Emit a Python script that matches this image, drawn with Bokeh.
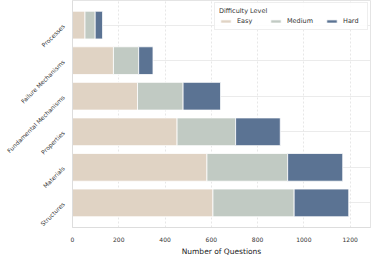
from bokeh.plotting import figure
from bokeh.models import ColumnDataSource, FactorRange, Range1d, FixedTicker, Legend
from bokeh.embed import file_html
from bokeh.resources import INLINE
import math

categories = ["Processes", "Failure Mechanisms", "Fundamental Mechanisms", "Properties", "Materials", "Structures"]
easy = [54, 177, 281, 452, 581, 607]
medium = [44, 109, 197, 253, 349, 351]
hard = [32, 62, 162, 193, 238, 236]
levels = ["Easy", "Medium", "Hard"]
colors = ["#e0d3c4", "#c1cac3", "#5b7393"]
x_ticks = [0, 200, 400, 600, 800, 1000, 1200]

src = ColumnDataSource(dict(cat=categories, Easy=easy, Medium=medium, Hard=hard))

yfactors = list(reversed(categories))
p = figure(frame_width=298, frame_height=227, output_backend="svg", toolbar_location=None,
           y_range=FactorRange(factors=yfactors, range_padding=0.064),
           x_range=Range1d(0, 1288),
           min_border_left=60, min_border_right=1, min_border_top=0, min_border_bottom=0)

rs = p.hbar_stack(levels, y="cat", height=0.78, source=src, color=colors,
                  line_color="white", line_width=0.8)

legend = Legend(items=[(lv, [r]) for lv, r in zip(levels, rs)], location="top_right",
                orientation="horizontal", title="Difficulty Level")
legend.title_text_font_size = "6.5px"
legend.title_text_font_style = "normal"
legend.title_text_font = "DejaVu Sans"
legend.title_text_color = "#333333"
legend.title_standoff = 2
legend.label_text_font_size = "6.5px"
legend.label_text_font = "DejaVu Sans"
legend.label_text_color = "#333333"
legend.label_height = 6
legend.glyph_width = 13
legend.glyph_height = 4
legend.spacing = 12
legend.padding = 4
legend.margin = 2
legend.border_line_color = "#dddddd"
legend.border_line_width = 0.8
legend.background_fill_alpha = 0.9
p.add_layout(legend, "center")

p.xaxis.ticker = FixedTicker(ticks=x_ticks)
p.xaxis.axis_label = "Number of Questions"
p.xaxis.axis_label_text_font = "DejaVu Sans"
p.xaxis.axis_label_text_font_size = "7.5px"
p.xaxis.axis_label_text_font_style = "normal"
p.xaxis.axis_label_text_color = "#222222"
p.xaxis.axis_label_standoff = 2
p.xaxis.major_label_text_font_size = "6px"
p.yaxis.major_label_text_font_size = "6px"
p.axis.major_label_text_font = "DejaVu Sans"
p.axis.major_label_text_color = "#333333"
p.yaxis.major_label_orientation = math.pi / 4
p.axis.major_tick_line_color = None
p.axis.minor_tick_line_color = None
p.axis.axis_line_color = "#dddddd"
p.axis.major_label_standoff = 3

p.xgrid.grid_line_color = "#dcdcdc"
p.xgrid.grid_line_dash = "2 2"
p.xgrid.grid_line_width = 0.7
p.ygrid.grid_line_color = "#e6e6e6"
p.ygrid.grid_line_width = 0.8
p.outline_line_color = "#dddddd"
p.outline_line_width = 0.8

open("out.html", "w").write(file_html(p, INLINE))
